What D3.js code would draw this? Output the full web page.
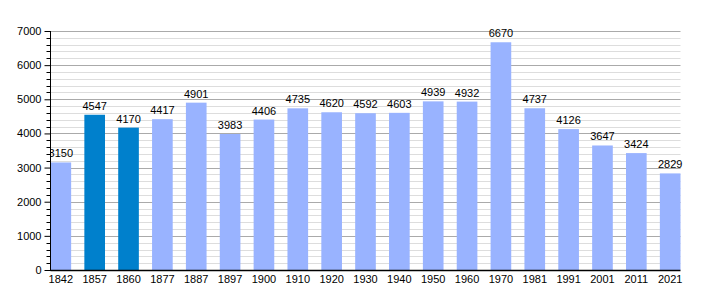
<!DOCTYPE html>
<html><head><meta charset="utf-8">
<script src="https://cdn.jsdelivr.net/npm/d3@7"></script>
<style>body{margin:0;background:#fff}svg{display:block}text{font-family:"Liberation Sans",Arial,sans-serif;font-size:11px;fill:#000}</style>
</head><body>
<script>
const years = ["1842","1857","1860","1877","1887","1897","1900","1910","1920","1930","1940","1950","1960","1970","1981","1991","2001","2011","2021"];
const population = [3150,4547,4170,4417,4901,3983,4406,4735,4620,4592,4603,4939,4932,6670,4737,4126,3647,3424,2829];
const highlighted = ["1857","1860"];
const yTicks = [0,1000,2000,3000,4000,5000,6000,7000];

const W=710,H=300, L=50.5, R=680.5, T=31, B=270;
const svg=d3.select("body").append("svg").attr("width",W).attr("height",H);
const x=d3.scaleBand().domain(years).range([L,R]).paddingInner(0.39).paddingOuter(0);
const y=d3.scaleLinear().domain([0,7000]).range([B,T]);

// minor grid
const minor=d3.range(0,7001,200).filter(v=>v%1000!==0);
svg.append("g").selectAll("line").data(minor).join("line")
 .attr("x1",L).attr("x2",R).attr("y1",d=>Math.round(y(d))+0.5).attr("y2",d=>Math.round(y(d))+0.5)
 .attr("stroke","#dddddd").attr("stroke-width",1);
svg.append("g").selectAll("line").data(yTicks.filter(v=>v>0)).join("line")
 .attr("x1",L).attr("x2",R).attr("y1",d=>Math.round(y(d))+0.5).attr("y2",d=>Math.round(y(d))+0.5)
 .attr("stroke","#aaaaaa").attr("stroke-width",1);

// bars
svg.append("g").selectAll("rect").data(years).join("rect")
 .attr("x",d=>x(d)).attr("width",x.bandwidth())
 .attr("y",(d,i)=>y(population[i])).attr("height",(d,i)=>B-y(population[i]))
 .attr("fill",d=>highlighted.includes(d)?"#0080cc":"#99b3ff");

// value labels
svg.append("clipPath").attr("id","pc").append("rect").attr("x",L).attr("y",0).attr("width",W-L).attr("height",H);
svg.append("g").attr("clip-path","url(#pc)").selectAll("text").data(years).join("text")
 .attr("x",d=>x(d)+x.bandwidth()/2).attr("y",(d,i)=>y(population[i])-5)
 .attr("text-anchor","middle").text((d,i)=>population[i]);

// y axis
const ya=svg.append("g").attr("transform",`translate(${L},0)`)
 .call(d3.axisLeft(y).tickValues(yTicks).tickSize(6).tickPadding(3).tickFormat(d3.format("d")));
ya.select(".domain").remove();
ya.selectAll(".tick text").style("font-family","Liberation Sans, Arial, sans-serif").style("font-size","11px").attr("fill","#000");
ya.selectAll(".tick line").attr("stroke","#000");
svg.append("g").selectAll("line").data(minor).join("line")
 .attr("x1",L-4).attr("x2",L).attr("y1",d=>Math.round(y(d))+0.5).attr("y2",d=>Math.round(y(d))+0.5).attr("stroke","#000");
svg.append("line").attr("x1",L).attr("x2",L).attr("y1",T).attr("y2",B+1).attr("stroke","#000");

// x axis
const xa=svg.append("g").attr("transform",`translate(0,${B})`).call(d3.axisBottom(x).tickSize(0).tickPadding(5));
xa.select(".domain").remove();
xa.selectAll(".tick text").style("font-family","Liberation Sans, Arial, sans-serif").style("font-size","11px").attr("fill","#000");
svg.append("line").attr("x1",L).attr("x2",R).attr("y1",B+0.5).attr("y2",B+0.5).attr("stroke","#000").attr("stroke-width",1.5);
</script>
</body></html>
